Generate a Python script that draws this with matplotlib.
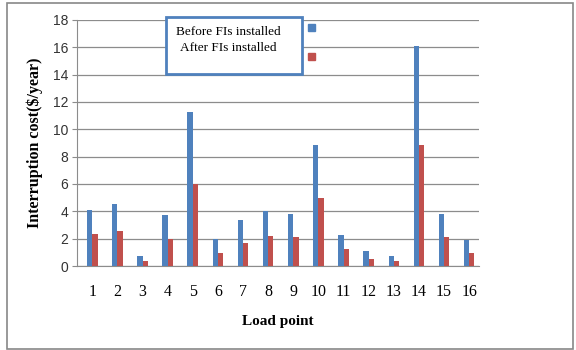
import numpy as np
import matplotlib.pyplot as plt
from matplotlib.patches import Rectangle

# data
load_points = [str(i) for i in range(1, 17)]
before_fi = [4.07, 4.5, 0.75, 3.7, 11.28, 1.97, 3.34, 4.02, 3.78, 8.87, 2.27, 1.07, 0.71, 16.1, 3.82, 1.9]
after_fi = [2.31, 2.53, 0.37, 2.0, 6.02, 0.93, 1.66, 2.22, 2.09, 4.94, 1.27, 0.54, 0.37, 8.82, 2.09, 0.97]
yticks = list(range(0, 19, 2))

fig = plt.figure(figsize=(5.76, 3.5), dpi=100)
ax = fig.add_axes([0.134, 0.24, 0.698, 0.703])

x = np.arange(len(load_points))
w = 0.21
ax.bar(x - w/2 + 0.1, before_fi, w, color="#4f81bd", zorder=3)
ax.bar(x + w/2 + 0.1, after_fi, w, color="#c0504d", zorder=3)

ax.set_xlim(-0.5, len(load_points) - 0.5)
ax.set_ylim(0, 18)
ax.set_yticks(yticks)
ax.set_yticklabels([str(v) for v in yticks], fontsize=10, family="Liberation Sans", color="#333333")
ax.set_xticks(x + 0.1)
ax.set_xticklabels(load_points, fontsize=11.5, family="Liberation Serif")
ax.tick_params(axis="x", length=0, pad=13)
ax.tick_params(axis="y", length=3.5, color="#8c8c8c", pad=3)
ax.yaxis.grid(True, color="#8c8c8c", linewidth=0.9, zorder=0)
for s in ["top", "right"]:
    ax.spines[s].set_visible(False)
ax.spines["left"].set_color("#8c8c8c")
ax.spines["bottom"].set_color("#8c8c8c")

ax.set_xlabel("Load point", fontsize=11, family="Liberation Serif", fontweight="bold", labelpad=11)
ax.set_ylabel("Interruption cost($/year)", fontsize=11.5, family="Liberation Serif", fontweight="bold", labelpad=7)

# broken legend box like the original
fig.patches.append(Rectangle((166/576, 1 - 74/350), 136/576, 57/350, transform=fig.transFigure,
                             fill=True, facecolor="white", edgecolor="#4f81bd", linewidth=2, zorder=5))
fig.text(228/576, 1 - 32/350, "Before FIs installed", ha="center", va="center", fontsize=9.5,
         family="Liberation Serif", zorder=6)
fig.text(228/576, 1 - 48/350, "After FIs installed", ha="center", va="center", fontsize=9.5,
         family="Liberation Serif", zorder=6)
fig.patches.append(Rectangle((308/576, 1 - 31/350), 7/576, 7/350, transform=fig.transFigure,
                             color="#4f81bd", zorder=6))
fig.patches.append(Rectangle((308/576, 1 - 60/350), 7/576, 7/350, transform=fig.transFigure,
                             color="#c0504d", zorder=6))

# outer frame
fig.patches.append(Rectangle((7/576, 1/350), 566/576, 346/350, transform=fig.transFigure,
                             fill=False, edgecolor="#888888", linewidth=1.2))

fig.savefig("out.png", dpi=100)
